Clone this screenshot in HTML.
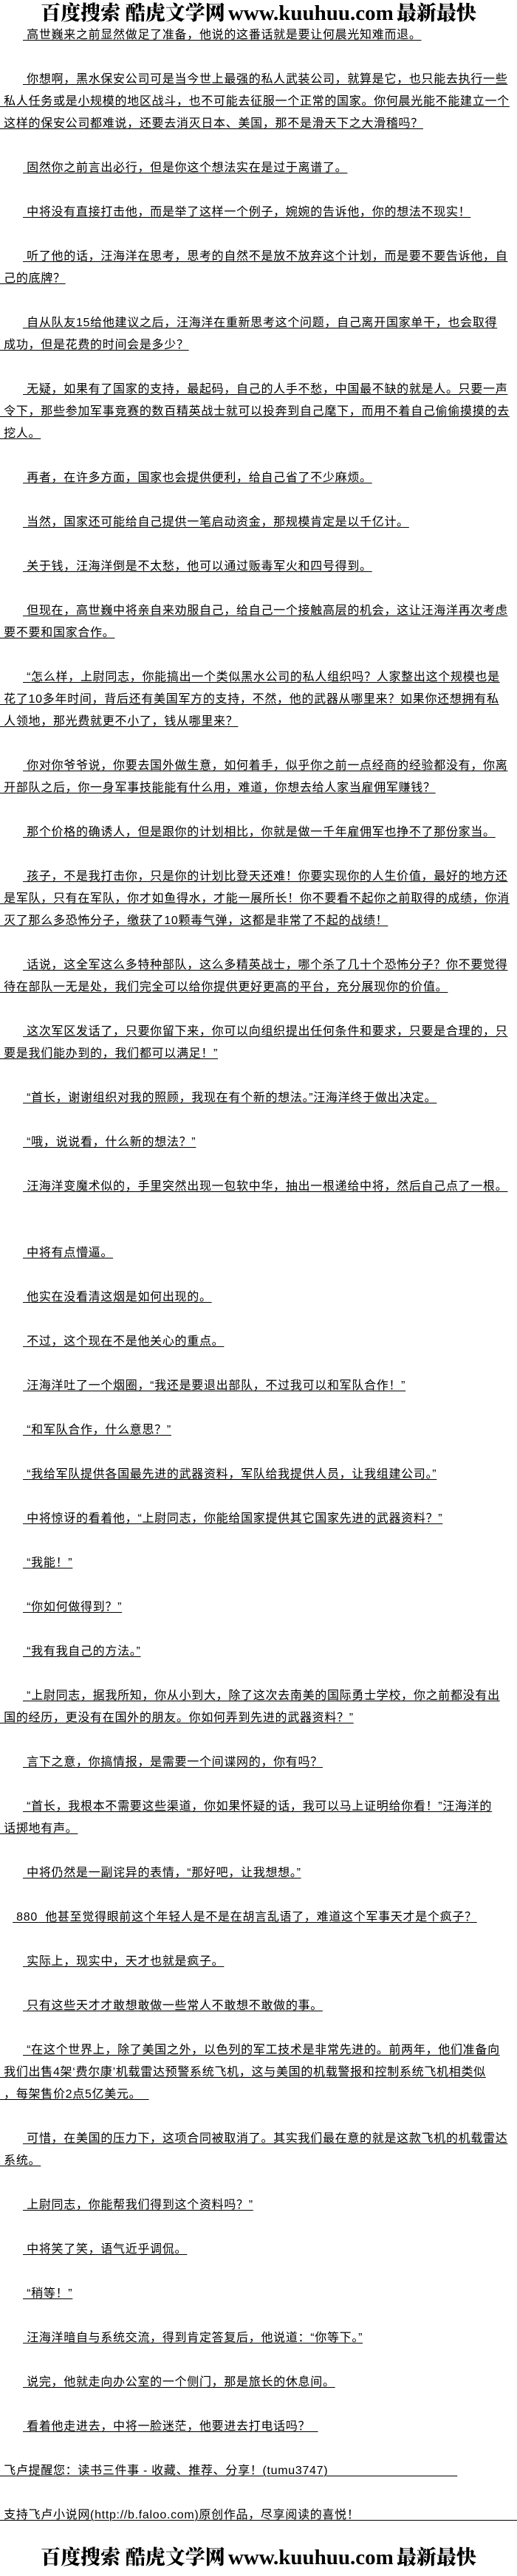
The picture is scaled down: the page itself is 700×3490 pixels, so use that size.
<!DOCTYPE html>
<html><head><meta charset="utf-8">
<style>
html,body{margin:0;padding:0;background:#fff;}
body{width:700px;height:3490px;position:relative;overflow:hidden;}
.l{position:absolute;left:0;height:30px;line-height:30px;white-space:nowrap;font-family:"Liberation Sans","Noto Sans CJK SC",sans-serif;font-size:16px;letter-spacing:0.7px;color:#000;}
.l span{text-decoration:underline;text-decoration-thickness:1px;text-underline-offset:2px;}
.i{left:31px;}
.logo{position:absolute;left:0;width:700px;text-align:center;height:40px;line-height:40px;white-space:nowrap;color:#000;font-weight:bold;}
.logo .c{font-family:"Noto Serif CJK SC","Liberation Serif",serif;font-size:27px;font-weight:900;}
.logo .w{font-family:"Liberation Serif",serif;font-size:29px;font-weight:bold;}
</style></head><body>
<div class="logo" style="top:-4px"><span class="c">百度搜索 酷虎文学网</span> <span class="w">www.kuuhuu.com</span> <span class="c">最新最快</span></div>

<div class="l i" style="top:33px"><span>&nbsp;高世巍来之前显然做足了准备，他说的这番话就是要让何晨光知难而退。</span></div>
<div class="l i" style="top:93px"><span>&nbsp;你想啊，黑水保安公司可是当今世上最强的私人武装公司，就算是它，也只能去执行一些</span></div>
<div class="l" style="top:123px"><span>&nbsp;私人任务或是小规模的地区战斗，也不可能去征服一个正常的国家。你何晨光能不能建立一个</span></div>
<div class="l" style="top:153px"><span>&nbsp;这样的保安公司都难说，还要去消灭日本、美国，那不是滑天下之大滑稽吗？</span></div>
<div class="l i" style="top:213px"><span>&nbsp;固然你之前言出必行，但是你这个想法实在是过于离谱了。</span></div>
<div class="l i" style="top:273px"><span>&nbsp;中将没有直接打击他，而是举了这样一个例子，婉婉的告诉他，你的想法不现实！</span></div>
<div class="l i" style="top:333px"><span>&nbsp;听了他的话，汪海洋在思考，思考的自然不是放不放弃这个计划，而是要不要告诉他，自</span></div>
<div class="l" style="top:363px"><span>&nbsp;己的底牌？</span></div>
<div class="l i" style="top:423px"><span>&nbsp;自从队友15给他建议之后，汪海洋在重新思考这个问题，自己离开国家单干，也会取得</span></div>
<div class="l" style="top:453px"><span>&nbsp;成功，但是花费的时间会是多少？</span></div>
<div class="l i" style="top:513px"><span>&nbsp;无疑，如果有了国家的支持，最起码，自己的人手不愁，中国最不缺的就是人。只要一声</span></div>
<div class="l" style="top:543px"><span>&nbsp;令下，那些参加军事竞赛的数百精英战士就可以投奔到自己麾下，而用不着自己偷偷摸摸的去</span></div>
<div class="l" style="top:573px"><span>&nbsp;挖人。</span></div>
<div class="l i" style="top:633px"><span>&nbsp;再者，在许多方面，国家也会提供便利，给自己省了不少麻烦。</span></div>
<div class="l i" style="top:693px"><span>&nbsp;当然，国家还可能给自己提供一笔启动资金，那规模肯定是以千亿计。</span></div>
<div class="l i" style="top:753px"><span>&nbsp;关于钱，汪海洋倒是不太愁，他可以通过贩毒军火和四号得到。</span></div>
<div class="l i" style="top:813px"><span>&nbsp;但现在，高世巍中将亲自来劝服自己，给自己一个接触高层的机会，这让汪海洋再次考虑</span></div>
<div class="l" style="top:843px"><span>&nbsp;要不要和国家合作。</span></div>
<div class="l i" style="top:903px"><span>&nbsp;“怎么样，上尉同志，你能搞出一个类似黑水公司的私人组织吗？人家整出这个规模也是</span></div>
<div class="l" style="top:933px"><span>&nbsp;花了10多年时间，背后还有美国军方的支持，不然，他的武器从哪里来？如果你还想拥有私</span></div>
<div class="l" style="top:963px"><span>&nbsp;人领地，那光费就更不小了，钱从哪里来？</span></div>
<div class="l i" style="top:1023px"><span>&nbsp;你对你爷爷说，你要去国外做生意，如何着手，似乎你之前一点经商的经验都没有，你离</span></div>
<div class="l" style="top:1053px"><span>&nbsp;开部队之后，你一身军事技能能有什么用，难道，你想去给人家当雇佣军赚钱？</span></div>
<div class="l i" style="top:1113px"><span>&nbsp;那个价格的确诱人，但是跟你的计划相比，你就是做一千年雇佣军也挣不了那份家当。</span></div>
<div class="l i" style="top:1173px"><span>&nbsp;孩子，不是我打击你，只是你的计划比登天还难！你要实现你的人生价值，最好的地方还</span></div>
<div class="l" style="top:1203px"><span>&nbsp;是军队，只有在军队，你才如鱼得水，才能一展所长！你不要看不起你之前取得的成绩，你消</span></div>
<div class="l" style="top:1233px"><span>&nbsp;灭了那么多恐怖分子，缴获了10颗毒气弹，这都是非常了不起的战绩！</span></div>
<div class="l i" style="top:1293px"><span>&nbsp;话说，这全军这么多特种部队，这么多精英战士，哪个杀了几十个恐怖分子？你不要觉得</span></div>
<div class="l" style="top:1323px"><span>&nbsp;待在部队一无是处，我们完全可以给你提供更好更高的平台，充分展现你的价值。</span></div>
<div class="l i" style="top:1383px"><span>&nbsp;这次军区发话了，只要你留下来，你可以向组织提出任何条件和要求，只要是合理的，只</span></div>
<div class="l" style="top:1413px"><span>&nbsp;要是我们能办到的，我们都可以满足！”</span></div>
<div class="l i" style="top:1473px"><span>&nbsp;“首长，谢谢组织对我的照顾，我现在有个新的想法。”汪海洋终于做出决定。</span></div>
<div class="l i" style="top:1533px"><span>&nbsp;“哦，说说看，什么新的想法？”</span></div>
<div class="l i" style="top:1593px"><span>&nbsp;汪海洋变魔术似的，手里突然出现一包软中华，抽出一根递给中将，然后自己点了一根。</span></div>
<div class="l i" style="top:1683px"><span>&nbsp;中将有点懵逼。</span></div>
<div class="l i" style="top:1743px"><span>&nbsp;他实在没看清这烟是如何出现的。</span></div>
<div class="l i" style="top:1803px"><span>&nbsp;不过，这个现在不是他关心的重点。</span></div>
<div class="l i" style="top:1863px"><span>&nbsp;汪海洋吐了一个烟圈，“我还是要退出部队，不过我可以和军队合作！”</span></div>
<div class="l i" style="top:1923px"><span>&nbsp;“和军队合作，什么意思？”</span></div>
<div class="l i" style="top:1983px"><span>&nbsp;“我给军队提供各国最先进的武器资料，军队给我提供人员，让我组建公司。”</span></div>
<div class="l i" style="top:2043px"><span>&nbsp;中将惊讶的看着他，“上尉同志，你能给国家提供其它国家先进的武器资料？”</span></div>
<div class="l i" style="top:2103px"><span>&nbsp;“我能！”</span></div>
<div class="l i" style="top:2163px"><span>&nbsp;“你如何做得到？”</span></div>
<div class="l i" style="top:2223px"><span>&nbsp;“我有我自己的方法。”</span></div>
<div class="l i" style="top:2283px"><span>&nbsp;“上尉同志，据我所知，你从小到大，除了这次去南美的国际勇士学校，你之前都没有出</span></div>
<div class="l" style="top:2313px"><span>&nbsp;国的经历，更没有在国外的朋友。你如何弄到先进的武器资料？”</span></div>
<div class="l i" style="top:2373px"><span>&nbsp;言下之意，你搞情报，是需要一个间谍网的，你有吗？</span></div>
<div class="l i" style="top:2433px"><span>&nbsp;“首长，我根本不需要这些渠道，你如果怀疑的话，我可以马上证明给你看！”汪海洋的</span></div>
<div class="l" style="top:2463px"><span>&nbsp;话掷地有声。</span></div>
<div class="l i" style="top:2523px"><span>&nbsp;中将仍然是一副诧异的表情，“那好吧，让我想想。”</span></div>
<div class="l" style="top:2583px;left:17px"><span>&nbsp;880&nbsp; 他甚至觉得眼前这个年轻人是不是在胡言乱语了，难道这个军事天才是个疯子？</span></div>
<div class="l i" style="top:2643px"><span>&nbsp;实际上，现实中，天才也就是疯子。</span></div>
<div class="l i" style="top:2703px"><span>&nbsp;只有这些天才才敢想敢做一些常人不敢想不敢做的事。</span></div>
<div class="l i" style="top:2763px"><span>&nbsp;“在这个世界上，除了美国之外，以色列的军工技术是非常先进的。前两年，他们准备向</span></div>
<div class="l" style="top:2793px"><span>&nbsp;我们出售4架‘费尔康’机载雷达预警系统飞机，这与美国的机载警报和控制系统飞机相类似</span></div>
<div class="l" style="top:2823px"><span>&nbsp;，每架售价2点5亿美元。&nbsp;&nbsp;</span></div>
<div class="l i" style="top:2883px"><span>&nbsp;可惜，在美国的压力下，这项合同被取消了。其实我们最在意的就是这款飞机的机载雷达</span></div>
<div class="l" style="top:2913px"><span>&nbsp;系统。</span></div>
<div class="l i" style="top:2973px"><span>&nbsp;上尉同志，你能帮我们得到这个资料吗？”</span></div>
<div class="l i" style="top:3033px"><span>&nbsp;中将笑了笑，语气近乎调侃。</span></div>
<div class="l i" style="top:3093px"><span>&nbsp;“稍等！”</span></div>
<div class="l i" style="top:3153px"><span>&nbsp;汪海洋暗自与系统交流，得到肯定答复后，他说道：“你等下。”</span></div>
<div class="l i" style="top:3213px"><span>&nbsp;说完，他就走向办公室的一个侧门，那是旅长的休息间。</span></div>
<div class="l i" style="top:3273px"><span>&nbsp;看着他走进去，中将一脸迷茫，他要进去打电话吗？&nbsp;&nbsp;</span></div>
<div class="l" style="top:3333px"><span>&nbsp;飞卢提醒您：读书三件事 - 收藏、推荐、分享！(tumu3747)&nbsp;&nbsp;&nbsp;&nbsp;&nbsp;&nbsp;&nbsp;&nbsp;&nbsp;&nbsp;&nbsp;&nbsp;&nbsp;&nbsp;&nbsp;&nbsp;&nbsp;&nbsp;&nbsp;&nbsp;&nbsp;&nbsp;&nbsp;&nbsp;&nbsp;&nbsp;&nbsp;&nbsp;&nbsp;&nbsp;&nbsp;&nbsp;&nbsp;&nbsp;</span></div>
<div class="l" style="top:3393px"><span>&nbsp;支持飞卢小说网(http://b.faloo.com)原创作品，尽享阅读的喜悦！&nbsp;&nbsp;&nbsp;&nbsp;&nbsp;&nbsp;&nbsp;&nbsp;&nbsp;&nbsp;&nbsp;&nbsp;&nbsp;&nbsp;&nbsp;&nbsp;&nbsp;&nbsp;&nbsp;&nbsp;&nbsp;&nbsp;&nbsp;&nbsp;&nbsp;&nbsp;&nbsp;&nbsp;&nbsp;&nbsp;&nbsp;&nbsp;&nbsp;&nbsp;&nbsp;&nbsp;&nbsp;&nbsp;&nbsp;&nbsp;&nbsp;&nbsp;&nbsp;&nbsp;&nbsp;&nbsp;&nbsp;</span></div>

<div class="logo" style="top:3443px"><span class="c">百度搜索 酷虎文学网</span> <span class="w">www.kuuhuu.com</span> <span class="c">最新最快</span></div>
</body></html>
